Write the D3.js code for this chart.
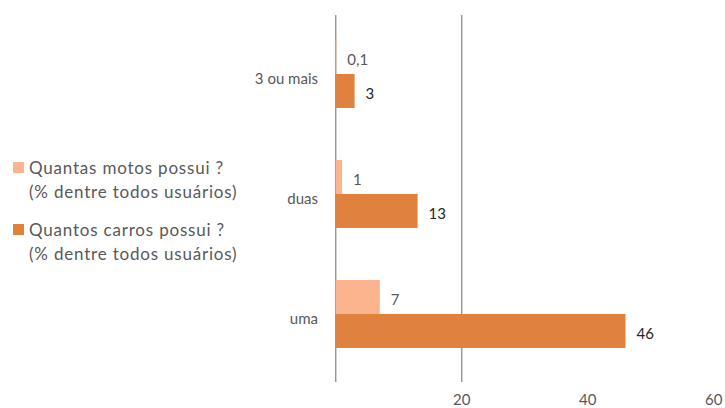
<!DOCTYPE html>
<html>
<head>
<meta charset="utf-8">
<script src="https://cdn.jsdelivr.net/npm/d3@7/dist/d3.min.js"></script>
<style>
html,body{margin:0;padding:0;background:#fff;}
svg{display:block;font-family:Lato,"Open Sans",sans-serif;}
</style>
</head>
<body>
<svg id="chart" width="725" height="408"></svg>
<script>
const categories = ["3 ou mais", "duas", "uma"];
const motos = [0.1, 1, 7];
const carros = [3, 13, 46];
const motoLabels = ["0,1", "1", "7"];
const carroLabels = ["3", "13", "46"];
const seriesNames = [
  ["Quantas motos possui ?", "(% dentre todos usuários)"],
  ["Quantos carros possui ?", "(% dentre todos usuários)"]
];
const tickValues = [20, 40, 60];
const gridValues = [0, 20];
const colors = ["#FBB48E", "#E0823D"];

const svg = d3.select("#chart");
const x = d3.scaleLinear().domain([0, 60]).range([335.7, 713.7]);
const y = d3.scaleBand().domain(categories).range([14, 374]);
const barH = 34;

// grid / axis lines
svg.append("g").selectAll("line").data(gridValues).join("line")
  .attr("x1", d => x(d)).attr("x2", d => x(d))
  .attr("y1", 15).attr("y2", 382)
  .attr("stroke", "#9a9a9a").attr("stroke-width", 1.5);

// tick labels
svg.append("g").selectAll("text").data(tickValues).join("text")
  .attr("x", d => x(d)).attr("y", 399)
  .attr("text-anchor", "middle").attr("dominant-baseline", "central")
  .attr("font-size", 15).attr("fill", "#595959")
  .text(d => d);

const cy = c => y(c) + y.bandwidth() / 2;

// bars
const series = [
  {vals: motos, labels: motoLabels, off: -barH, color: colors[0], lc: "#595959"},
  {vals: carros, labels: carroLabels, off: 0, color: colors[1], lc: "#262626"}
];
series.forEach(s => {
  const g = svg.append("g");
  g.selectAll("rect").data(categories).join("rect")
    .attr("x", x(0))
    .attr("y", c => cy(c) + s.off)
    .attr("width", (c, i) => x(s.vals[i]) - x(0))
    .attr("height", barH)
    .attr("fill", s.color);
  g.selectAll("text").data(categories).join("text")
    .attr("x", (c, i) => x(s.vals[i]) + 11)
    .attr("y", c => cy(c) + s.off + barH / 2 + 2)
    .attr("dominant-baseline", "central")
    .attr("font-size", 15).attr("fill", s.lc)
    .text((c, i) => s.labels[i]);
});

// category labels
svg.append("g").selectAll("text").data(categories).join("text")
  .attr("x", 318).attr("y", c => cy(c) + 4)
  .attr("text-anchor", "end").attr("dominant-baseline", "central")
  .attr("font-size", 15).attr("fill", "#595959")
  .text(c => c);

// legend
const leg = svg.append("g");
seriesNames.forEach((lines, i) => {
  const top = 160 + i * 62;
  leg.append("rect").attr("x", 13).attr("y", top + 2).attr("width", 11).attr("height", 11)
    .attr("fill", colors[i]);
  lines.forEach((t, j) => {
    leg.append("text").attr("x", 29).attr("y", top + 7 + j * 24)
      .attr("dominant-baseline", "central")
      .attr("font-size", 17).attr("letter-spacing", 0.8).attr("fill", "#595959")
      .text(t);
  });
});
</script>
</body>
</html>
